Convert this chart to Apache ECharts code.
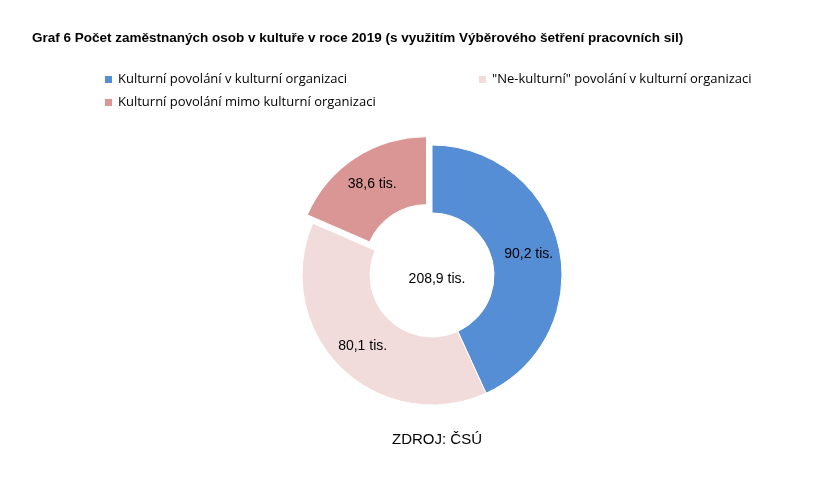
<!DOCTYPE html>
<html><head><meta charset="utf-8">
<script src="https://cdn.jsdelivr.net/npm/echarts@6/dist/echarts.min.js"></script>
<style>html,body{margin:0;background:#fff}#c{width:840px;height:480px}</style>
</head><body><div id="c"></div>
<script>
const categories = ["Kulturní povolání v kulturní organizaci", "\"Ne-kulturní\" povolání v kulturní organizaci", "Kulturní povolání mimo kulturní organizaci"];
const values = [90.2, 80.1, 38.6];
const labels = ["90,2 tis.", "80,1 tis.", "38,6 tis."];
const total = "208,9 tis.";
const colors = ["#558ed5", "#f2dcdb", "#d99694"];
const chart = echarts.init(document.getElementById('c'));
const legStyle = {itemWidth: 9, itemHeight: 9, icon: "rect", selectedMode: false, orient: "horizontal",
  textStyle: {fontFamily: "Open Sans", fontSize: 13, color: "#000"}};
chart.setOption({
  animation: false,
  title: [
    {text: "Graf 6 Počet zaměstnaných osob v kultuře v roce 2019 (s využitím Výběrového šetření pracovních sil)", left: 27, top: 26,
     textStyle: {fontFamily: "Liberation Sans", fontSize: 13.5, fontWeight: "bold", color: "#000"}},
    {text: "ZDROJ: ČSÚ", left: 432, top: 427, textAlign: "center",
     textStyle: {fontFamily: "Liberation Sans", fontSize: 15, fontWeight: "normal", color: "#000"}},
    {text: total, left: 432, top: 267, textAlign: "center",
     textStyle: {fontFamily: "Liberation Sans", fontSize: 14, fontWeight: "normal", color: "#000"}}
  ],
  legend: [
    Object.assign({data: [categories[0]], left: 98, top: 68}, legStyle),
    Object.assign({data: [categories[1]], left: 472, top: 68}, legStyle),
    Object.assign({data: [categories[2]], left: 98, top: 91}, legStyle)
  ],
  series: [{
    type: "pie", center: [432, 275], radius: [62, 130], startAngle: 90, clockwise: true,
    selectedMode: "single", selectedOffset: 10,
    itemStyle: {borderColor: "#fff", borderWidth: 1},
    label: {position: "inside", fontFamily: "Liberation Sans", fontSize: 14, color: "#000",
            formatter: p => labels[p.dataIndex]},
    labelLine: {show: false},
    data: values.map((v, i) => ({name: categories[i], value: v, selected: i === 2, itemStyle: {color: colors[i]}}))
  }]
});
</script></body></html>
